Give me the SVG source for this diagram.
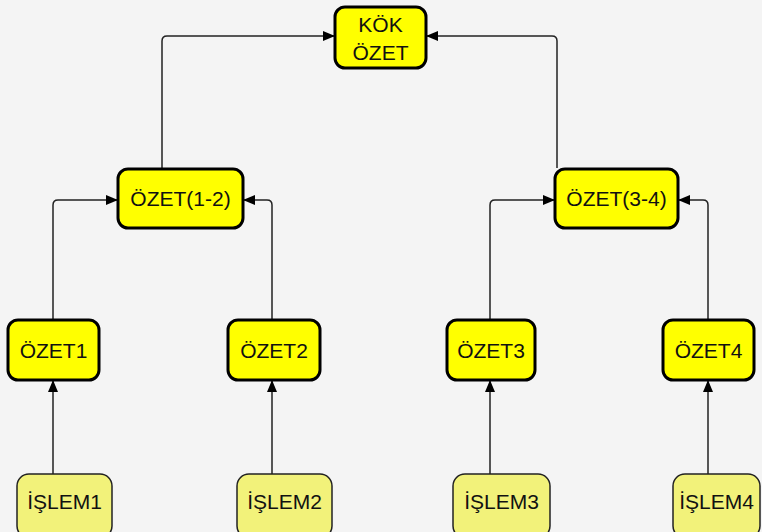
<svg xmlns="http://www.w3.org/2000/svg" width="762" height="532" viewBox="0 0 762 532">
  <defs>
    <marker id="arrow" viewBox="0 0 12 10" refX="12" refY="5" markerWidth="12" markerHeight="10" markerUnits="userSpaceOnUse" orient="auto">
      <path d="M0,0 L12,5 L0,10 Z" fill="#000"/>
    </marker>
    <style>
      .sum rect { fill: #ffff00; stroke: #000; stroke-width: 3; }
      .op rect { fill: #f2f27a; stroke: #222; stroke-width: 1.5; }
      text { font-family: "Liberation Sans", Arial, sans-serif; font-size: 21px; fill: #111; text-anchor: middle; }
      .edge { fill: none; stroke: #222; stroke-width: 1.5; marker-end: url(#arrow); }
    </style>
  </defs>
  <rect width="762" height="532" fill="#f4f4f4"/>

  <g id="connectors">
    <path class="edge" d="M162,168 V41 Q162,36 167,36 H335"/>
    <path class="edge" d="M557,168 V41 Q557,36 552,36 H426"/>
    <path class="edge" d="M53,320 V205 Q53,200 58,200 H118"/>
    <path class="edge" d="M272,320 V205 Q272,200 267,200 H243"/>
    <path class="edge" d="M490,320 V205 Q490,200 495,200 H555"/>
    <path class="edge" d="M708,320 V205 Q708,200 703,200 H678"/>
    <path class="edge" d="M53,474 V380"/>
    <path class="edge" d="M272,474 V380"/>
    <path class="edge" d="M490,474 V380"/>
    <path class="edge" d="M708,474 V380"/>
  </g>

  <g id="root" class="sum">
    <rect x="335" y="7" width="91" height="61" rx="10"/>
    <text x="380.5" y="32">KÖK</text>
    <text x="380.5" y="60">ÖZET</text>
  </g>
  <g id="sum12" class="sum">
    <rect x="118" y="169" width="125" height="59" rx="10"/>
    <text x="180.5" y="206">ÖZET(1-2)</text>
  </g>
  <g id="sum34" class="sum">
    <rect x="555" y="169" width="123" height="59" rx="10"/>
    <text x="616.5" y="206">ÖZET(3-4)</text>
  </g>
  <g id="sum1" class="sum">
    <rect x="8" y="320" width="91" height="60" rx="10"/>
    <text x="53.5" y="358">ÖZET1</text>
  </g>
  <g id="sum2" class="sum">
    <rect x="228" y="320" width="92" height="60" rx="10"/>
    <text x="274" y="358">ÖZET2</text>
  </g>
  <g id="sum3" class="sum">
    <rect x="447" y="320" width="88" height="60" rx="10"/>
    <text x="491" y="358">ÖZET3</text>
  </g>
  <g id="sum4" class="sum">
    <rect x="663" y="320" width="91" height="60" rx="10"/>
    <text x="708.5" y="358">ÖZET4</text>
  </g>

  <g id="op1" class="op">
    <rect x="17" y="474" width="95" height="64" rx="12"/>
    <text x="64.5" y="509">İŞLEM1</text>
  </g>
  <g id="op2" class="op">
    <rect x="237" y="474" width="95" height="64" rx="12"/>
    <text x="284.5" y="509">İŞLEM2</text>
  </g>
  <g id="op3" class="op">
    <rect x="453" y="474" width="97" height="64" rx="12"/>
    <text x="501.5" y="509">İŞLEM3</text>
  </g>
  <g id="op4" class="op">
    <rect x="673" y="474" width="87" height="64" rx="12"/>
    <text x="716.5" y="509">İŞLEM4</text>
  </g>
</svg>
